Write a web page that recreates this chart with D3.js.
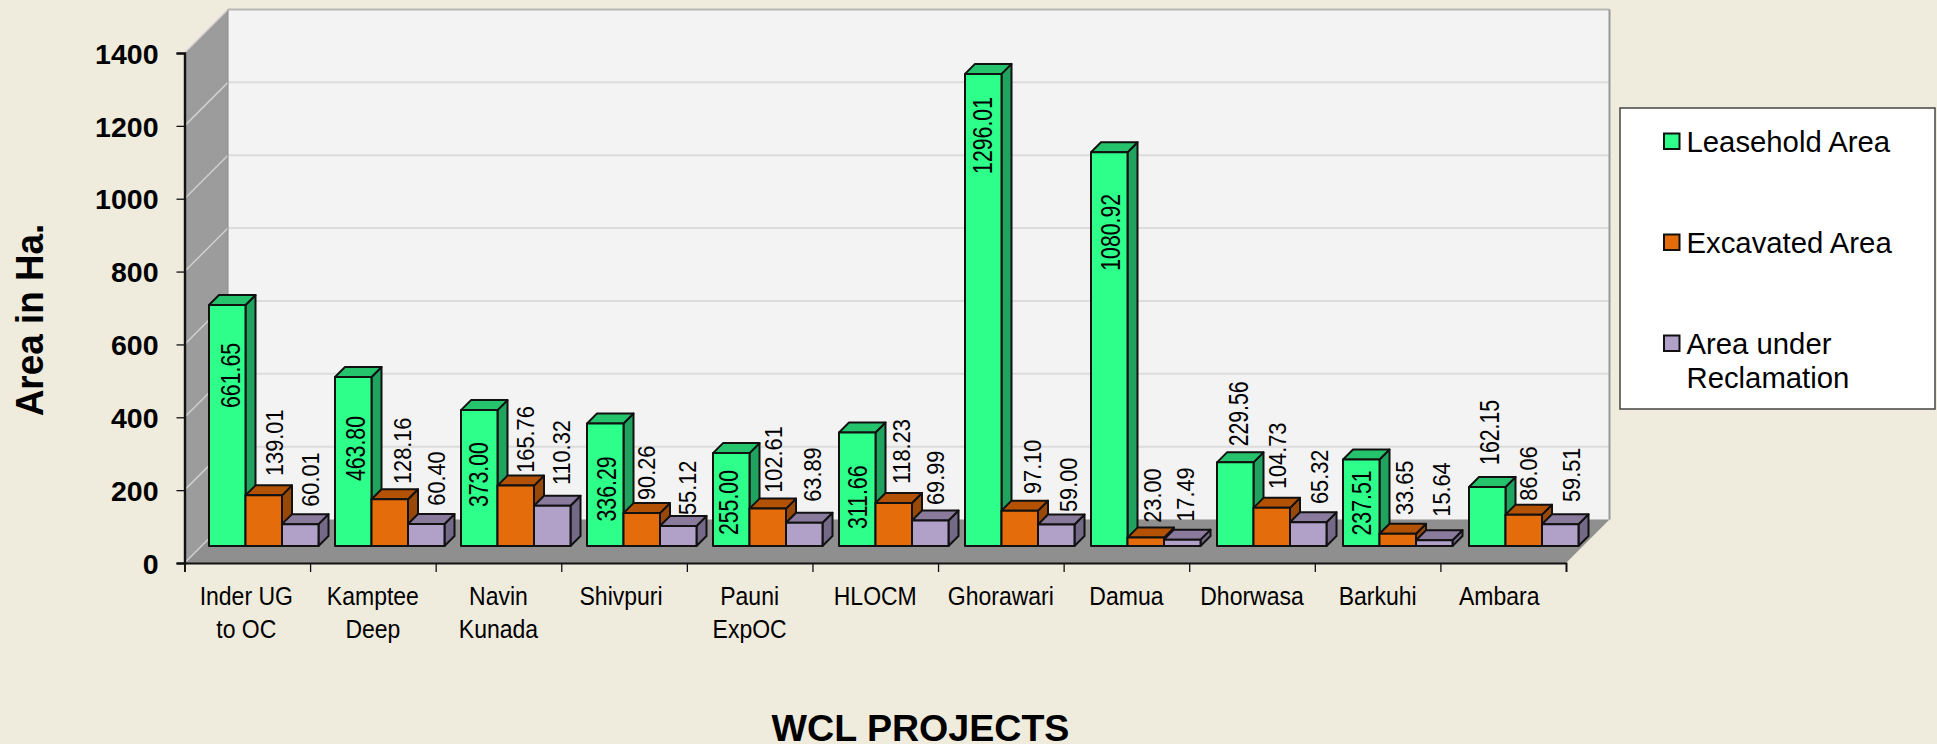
<!DOCTYPE html>
<html>
<head>
<meta charset="utf-8">
<script src="https://cdnjs.cloudflare.com/ajax/libs/d3/7.8.5/d3.min.js"></script>
<style>
html,body{margin:0;padding:0;background:#EFEBDD;overflow:hidden}
svg{display:block;font-family:"Liberation Sans",Arial,sans-serif}
</style>
</head>
<body>
<svg id="chart" width="1937" height="744"></svg>
<script>
// ---- data ----
const categories = [["Inder UG","to OC"],["Kamptee","Deep"],["Navin","Kunada"],["Shivpuri"],["Pauni","ExpOC"],["HLOCM"],["Ghorawari"],["Damua"],["Dhorwasa"],["Barkuhi"],["Ambara"]];
const seriesNames = ["Leasehold Area","Excavated Area","Area under Reclamation"];
const leasehold = [661.65,463.80,373.00,336.29,255.00,311.66,1296.01,1080.92,229.56,237.51,162.15];
const excavated = [139.01,128.16,165.76,90.26,102.61,118.23,97.10,23.00,104.73,33.65,86.06];
const reclamation = [60.01,60.40,110.32,55.12,63.89,69.99,59.00,17.49,65.32,15.64,59.51];
const yTicks = [0,200,400,600,800,1000,1200,1400];

// ---- label placement: px above bar top, px right of bar centre ----
const leaseLift = [-103,-104,-97,-98,-82,-96.5,-100,-118.5,16,-76,22];
const leaseShift = [3,2,-1,1,-3.5,0,-1,1,2.5,0,2];
const excavLift = [19.4,15.3,12.9,13.1,15.9,18.9,16.6,14.9,18.8,18.7,13.9];
const excavShift = [10,12,9,4,5,7,12,6,5,6,4];
const reclLift = [17.4,18.3,20.8,10.9,21,15.5,12.5,17.9,18.2,23.6,22.3];
const reclShift = [10,10,9,8.5,7.5,5,12,3,11,6.5,11];
const categoryShift = [-1,0,0,-3,0,0,0,0,0,0,-4];

// ---- styles ----
const seriesStyle = [
  {front:"#2EFF8A",top:"#25C46C",side:"#1FA35F",labelSize:28,labelStretch:.76},
  {front:"#E46C0A",top:"#B35205",side:"#984807",labelSize:24.7,labelStretch:.88},
  {front:"#B1A0C7",top:"#8A7A9C",side:"#746A87",labelSize:24.7,labelStretch:.88}
];
const seriesValues = [leasehold,excavated,reclamation];
const seriesLift = [leaseLift,excavLift,reclLift];
const seriesShift = [leaseShift,excavShift,reclShift];

// ---- geometry ----
const svg = d3.select("#chart");
const y = d3.scaleLinear().domain([0,1400]).range([563,53]);
const xTick = d3.scaleLinear().domain([0,categories.length]).range([184.5,1566]);
const xBand = d3.scaleBand().domain(d3.range(categories.length)).range([201,201+126*categories.length]);
const xSeries = d3.scaleBand().domain(d3.range(3)).range([8,8+109.5]);
const wallDepth = 43.5, barPlane = 17, barDepth = 10;
const pts = a => a.map(p=>p.join(",")).join(" ");

// walls and floor
svg.append("polygon").attr("fill","#F3F3F3")
  .attr("points",pts([[xTick(0)+wallDepth,y(1400)-wallDepth],[xTick(11)+wallDepth,y(1400)-wallDepth],[xTick(11)+wallDepth,y(0)-wallDepth],[xTick(0)+wallDepth,y(0)-wallDepth]]));
svg.append("polygon").attr("fill","#9C9C9C")
  .attr("points",pts([[xTick(0),y(1400)],[xTick(0)+wallDepth,y(1400)-wallDepth],[xTick(0)+wallDepth,y(0)-wallDepth],[xTick(0),y(0)]]));
svg.append("polygon").attr("fill","#8F8F8F")
  .attr("points",pts([[xTick(0),y(0)],[xTick(11),y(0)],[xTick(11)+wallDepth,y(0)-wallDepth],[xTick(0)+wallDepth,y(0)-wallDepth]]));

// gridlines
const grid = svg.append("g");
grid.selectAll("line.back").data(yTicks.filter(d=>d>0)).join("line").attr("class","back")
  .attr("x1",xTick(0)+wallDepth).attr("x2",xTick(11)+wallDepth)
  .attr("y1",d=>y(d)-wallDepth).attr("y2",d=>y(d)-wallDepth)
  .attr("stroke",d=>d===1400?"#B8B8B8":"#DCDCDC").attr("stroke-width",2);
grid.selectAll("line.wall").data(yTicks).join("line").attr("class","wall")
  .attr("x1",xTick(0)).attr("x2",xTick(0)+wallDepth)
  .attr("y1",d=>y(d)).attr("y2",d=>y(d)-wallDepth)
  .attr("stroke","#D0D0D0").attr("stroke-width",1.5);
// wall edges
grid.append("line").attr("x1",xTick(0)+wallDepth).attr("x2",xTick(0)+wallDepth).attr("y1",y(1400)-wallDepth).attr("y2",y(0)-wallDepth).attr("stroke","#8A8A8A").attr("stroke-width",1);
grid.append("line").attr("x1",xTick(11)+wallDepth).attr("x2",xTick(11)+wallDepth).attr("y1",y(1400)-wallDepth).attr("y2",y(0)-wallDepth).attr("stroke","#999").attr("stroke-width",2);

// bars
const bars = [];
categories.forEach((c,i)=>seriesValues.forEach((vals,s)=>bars.push({i,s,v:vals[i]})));
const w = xSeries.bandwidth();
const g = svg.append("g").attr("stroke","#111").attr("stroke-width",2).attr("stroke-linejoin","round");
const bar = g.selectAll("g").data(bars).join("g");
const L = d=>xBand(d.i)+xSeries(d.s), T = d=>y(d.v)-barPlane, B = ()=>y(0)-barPlane;
bar.append("polygon").attr("fill",d=>seriesStyle[d.s].side)
  .attr("points",d=>pts([[L(d)+w,T(d)],[L(d)+w+barDepth,T(d)-barDepth],[L(d)+w+barDepth,B()-barDepth],[L(d)+w,B()]]));
bar.append("polygon").attr("fill",d=>seriesStyle[d.s].top)
  .attr("points",d=>pts([[L(d),T(d)],[L(d)+barDepth,T(d)-barDepth],[L(d)+w+barDepth,T(d)-barDepth],[L(d)+w,T(d)]]));
bar.append("rect").attr("fill",d=>seriesStyle[d.s].front)
  .attr("x",L).attr("y",T).attr("width",w).attr("height",d=>B()-T(d));

// value labels
svg.append("g").selectAll("text").data(bars).join("text")
  .attr("transform",d=>`translate(${L(d)+w/2+seriesShift[d.s][d.i]},${T(d)-seriesLift[d.s][d.i]}) rotate(-90) scale(${seriesStyle[d.s].labelStretch},1)`)
  .attr("dy","0.36em").attr("font-size",d=>seriesStyle[d.s].labelSize).attr("fill","#000")
  .text(d=>d.v.toFixed(2));

// axes
const axisY = svg.append("g").attr("transform",`translate(${xTick(0)},0)`)
  .call(d3.axisLeft(y).tickValues(yTicks).tickSize(8).tickPadding(18).tickFormat(d3.format("d")));
axisY.selectAll("text").attr("font-size",28.5).attr("font-weight","bold").attr("font-family","'Liberation Sans',Arial,sans-serif").attr("fill","#000").attr("dy","0.36em");
axisY.selectAll("line").attr("stroke","#111").attr("stroke-width",1.3);
axisY.select(".domain").attr("stroke","#111").attr("stroke-width",2.4);

const axisX = svg.append("g").attr("transform",`translate(0,${y(0)})`)
  .call(d3.axisBottom(xTick).tickValues(d3.range(categories.length+1)).tickSize(9).tickFormat(""));
axisX.selectAll("line").attr("stroke","#111").attr("stroke-width",1.3);
axisX.select(".domain").attr("stroke","#111").attr("stroke-width",1.8);

// category labels
const catG = svg.append("g").selectAll("g").data(categories).join("g")
  .attr("transform",(d,i)=>`translate(${(xTick(i)+xTick(i+1))/2+categoryShift[i]},0)`);
catG.selectAll("text").data(d=>d).join("text")
  .attr("transform",(d,k)=>`translate(0,${605+33*k}) scale(.92,1)`)
  .attr("text-anchor","middle").attr("font-size",25).attr("fill","#000").text(d=>d);

// axis titles
svg.append("text").attr("transform","translate(43,320) rotate(-90) scale(.97,1)")
  .attr("text-anchor","middle").attr("font-size",38).attr("font-weight","bold").text("Area in Ha.");
svg.append("text").attr("x",920.5).attr("y",741)
  .attr("text-anchor","middle").attr("font-size",37.6).attr("font-weight","bold").text("WCL PROJECTS");

// legend
const legend = svg.append("g");
legend.append("rect").attr("x",1620).attr("y",108).attr("width",315).attr("height",301)
  .attr("fill","#fff").attr("stroke","#444").attr("stroke-width",1.5);
const legendY = d3.scalePoint().domain(seriesNames).range([141.5,343.5]);
const legendRows = legend.selectAll("g").data(seriesNames).join("g")
  .attr("transform",d=>`translate(0,${legendY(d)})`);
legendRows.append("rect").attr("x",1664).attr("y",-8).attr("width",15.5).attr("height",15.5)
  .attr("fill",(d,i)=>seriesStyle[i].front).attr("stroke","#111").attr("stroke-width",2);
legendRows.each(function(d){
  const words = d==="Area under Reclamation"?["Area under","Reclamation"]:[d];
  d3.select(this).selectAll("text").data(words).join("text")
    .attr("x",1686.5).attr("y",(t,k)=>10+34*k).attr("font-size",29.3).attr("fill","#000").text(t=>t);
});
</script>
</body>
</html>
